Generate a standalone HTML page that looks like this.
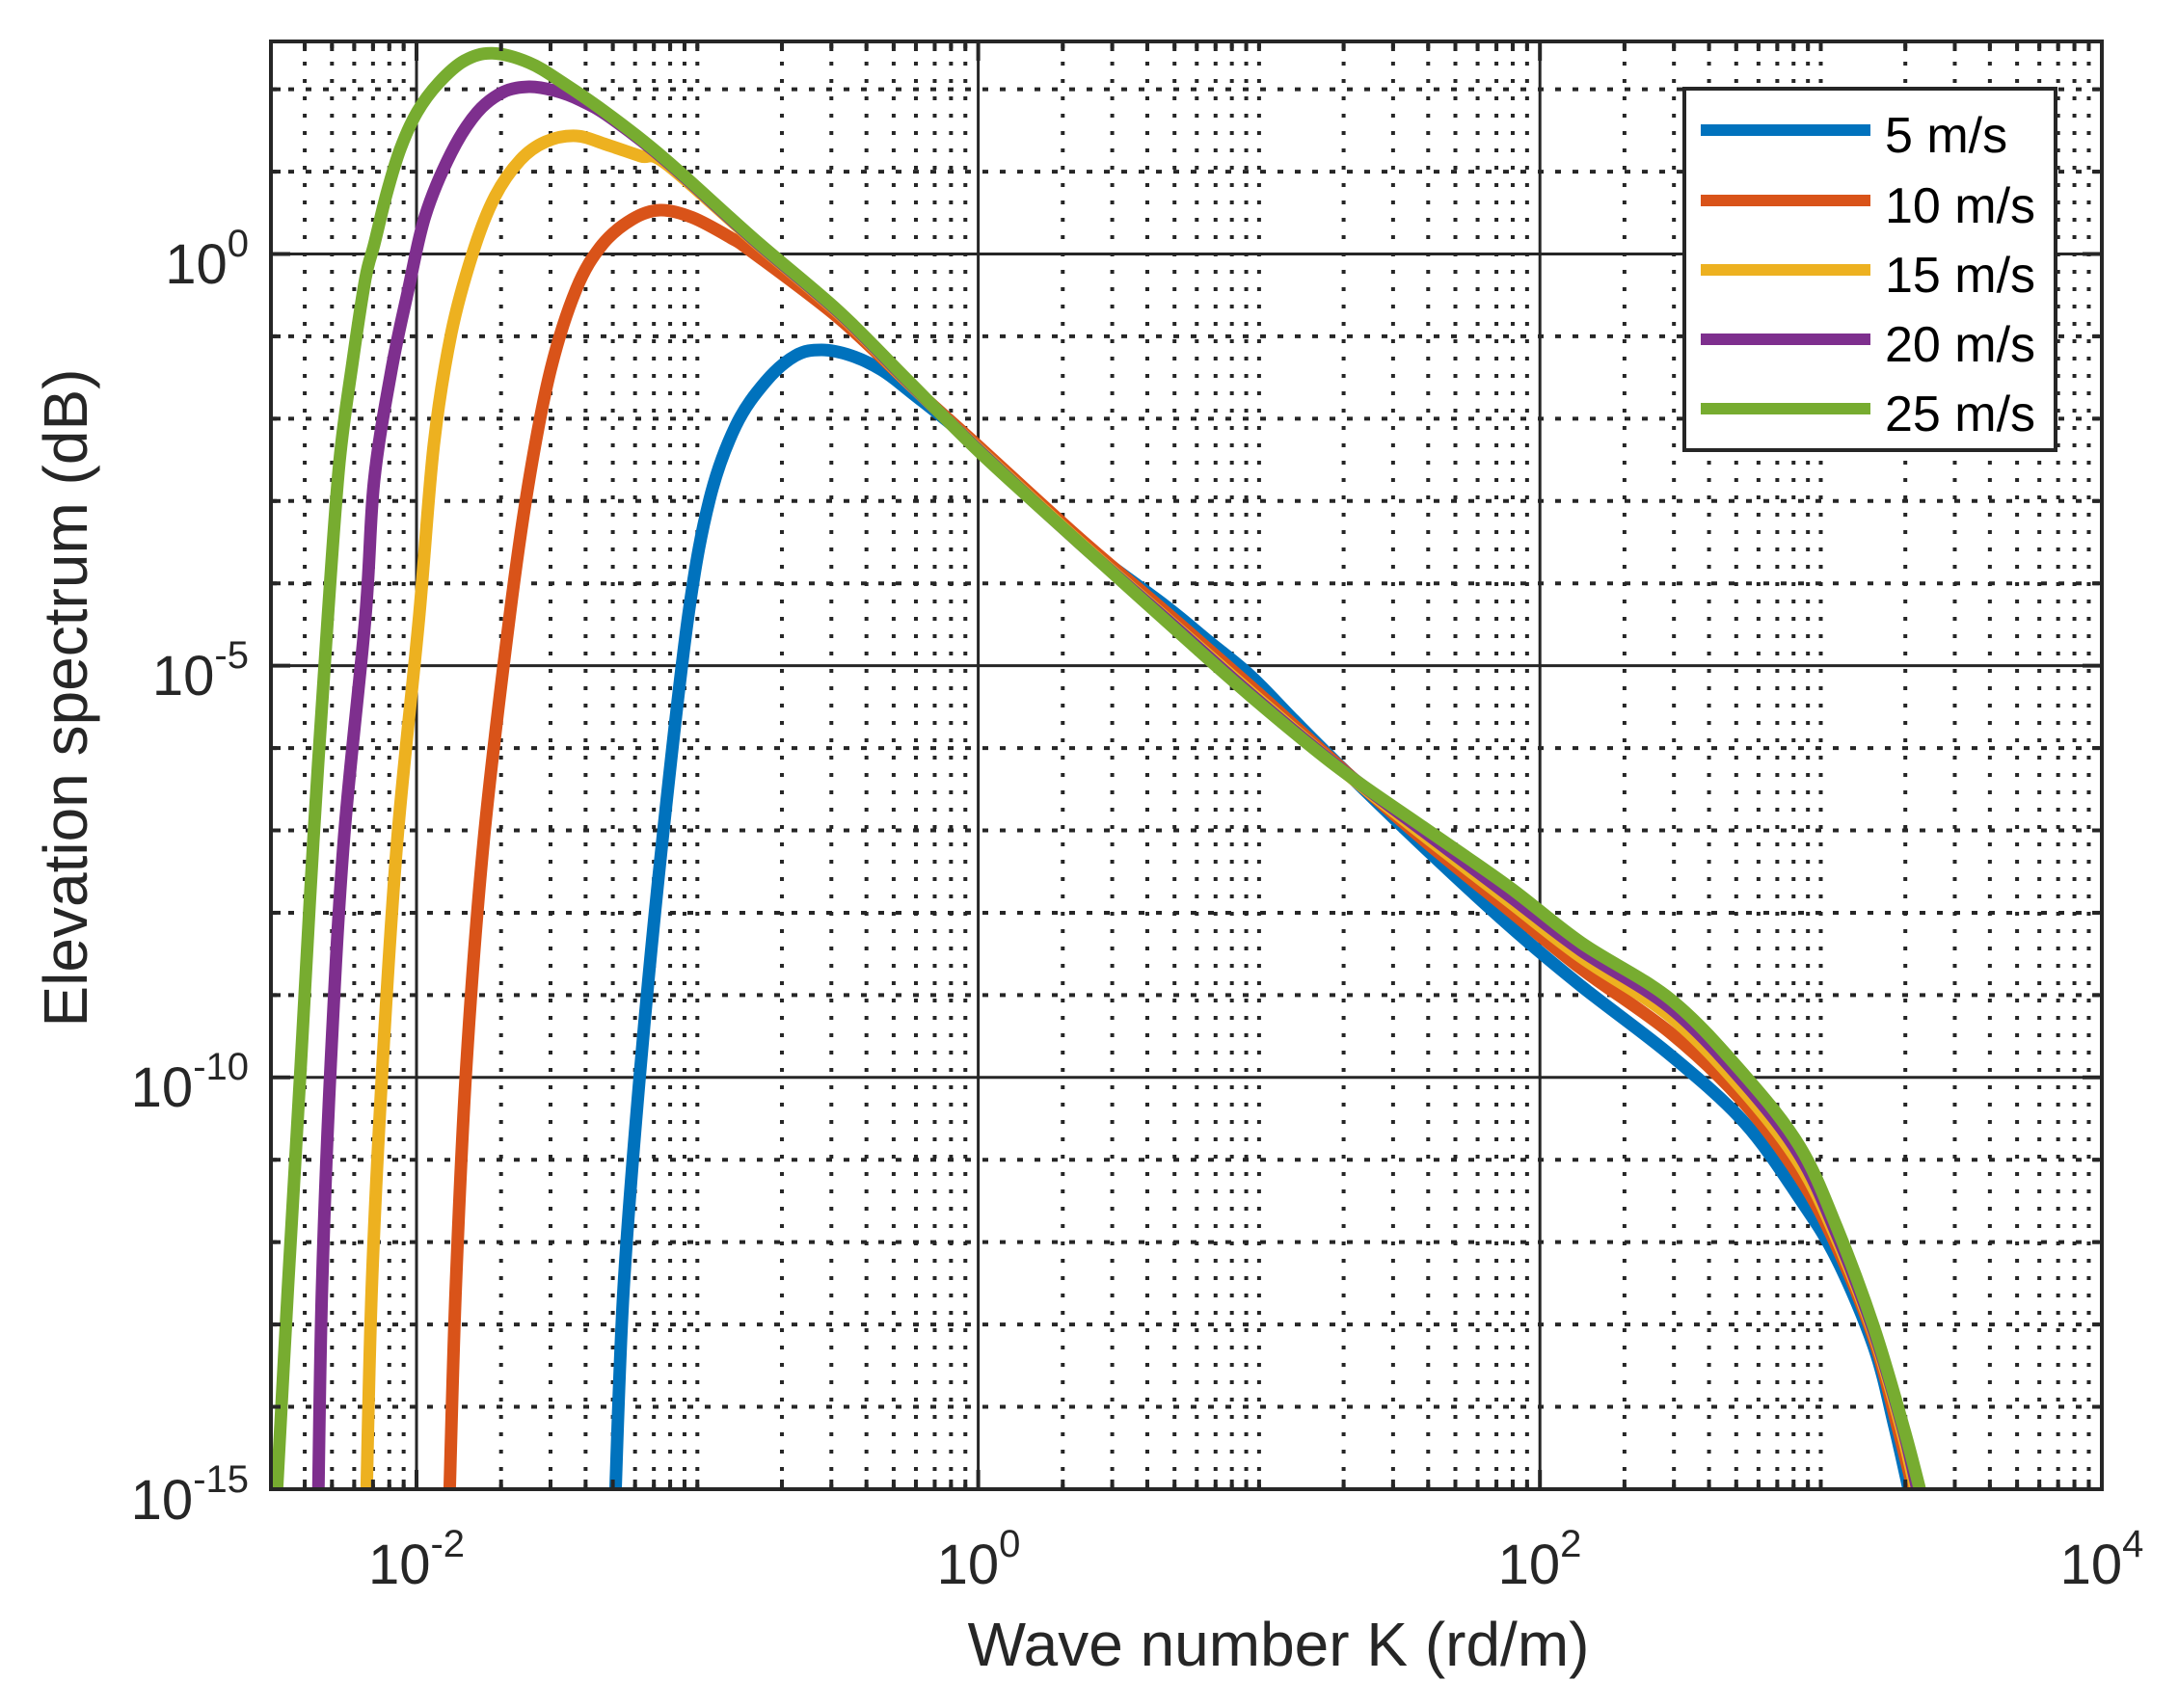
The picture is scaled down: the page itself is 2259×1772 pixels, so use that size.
<!DOCTYPE html>
<html><head><meta charset="utf-8"><style>
html,body{margin:0;padding:0;background:#fff;}
svg{display:block;}
text{font-family:"Liberation Sans",Arial,sans-serif;fill:#262626;}
</style></head><body>
<svg id="s" width="2259" height="1772" viewBox="0 0 2259 1772" xmlns="http://www.w3.org/2000/svg">
<defs><clipPath id="c"><rect x="281" y="43" width="1899" height="1502"/></clipPath></defs>
<rect width="2259" height="1772" fill="#fff"/>
<g id="grid"></g>
<g id="curves" clip-path="url(#c)" fill="none" stroke-width="13" stroke-linejoin="round"></g>
<rect x="281" y="43" width="1899" height="1502" fill="none" stroke="#262626" stroke-width="4"/>
<g id="ticks"></g>
<g font-size="58">
<text x="258" y="294" text-anchor="end">10<tspan dy="-28" font-size="40">0</tspan></text>
<text x="258" y="721" text-anchor="end">10<tspan dy="-28" font-size="40">-5</tspan></text>
<text x="258" y="1148" text-anchor="end">10<tspan dy="-28" font-size="40">-10</tspan></text>
<text x="258" y="1576" text-anchor="end">10<tspan dy="-28" font-size="40">-15</tspan></text>
<text x="432" y="1643" text-anchor="middle">10<tspan dy="-28" font-size="40">-2</tspan></text>
<text x="1015" y="1643" text-anchor="middle">10<tspan dy="-28" font-size="40">0</tspan></text>
<text x="1597" y="1643" text-anchor="middle">10<tspan dy="-28" font-size="40">2</tspan></text>
<text x="2180" y="1643" text-anchor="middle">10<tspan dy="-28" font-size="40">4</tspan></text>
</g>
<text x="1326" y="1728" font-size="64" text-anchor="middle">Wave number K (rd/m)</text>
<text transform="translate(90,724) rotate(-90)" font-size="64" text-anchor="middle">Elevation spectrum (dB)</text>
<rect x="1747" y="92" width="385" height="375" fill="#fff" stroke="#262626" stroke-width="4"/>
<g stroke-width="12">
<line x1="1764" y1="135" x2="1940" y2="135" stroke="#0072BD"/>
<line x1="1764" y1="208" x2="1940" y2="208" stroke="#D95319"/>
<line x1="1764" y1="280" x2="1940" y2="280" stroke="#EDB120"/>
<line x1="1764" y1="352" x2="1940" y2="352" stroke="#7E2F8E"/>
<line x1="1764" y1="424" x2="1940" y2="424" stroke="#77AC30"/>
</g>
<g font-size="52">
<text x="1955" y="158" style="fill:#000">5 m/s</text>
<text x="1955" y="231" style="fill:#000">10 m/s</text>
<text x="1955" y="303" style="fill:#000">15 m/s</text>
<text x="1955" y="375" style="fill:#000">20 m/s</text>
<text x="1955" y="447" style="fill:#000">25 m/s</text>
</g>
</svg>
<script>
var NS="http://www.w3.org/2000/svg";
function X(l){return 432+(l+2)*291.3;}
function Y(l){return 263.5-l*85.43;}
function el(p,t,a){var e=document.createElementNS(NS,t);for(var k in a)e.setAttribute(k,a[k]);p.appendChild(e);return e;}
var g=document.getElementById("grid"),tk=document.getElementById("ticks");
var L=281,R=2180,T=43,B=1545;
for(var d=-3;d<=3;d++){for(var m=1;m<=9;m++){var lx=d+Math.log10(m);var x=X(lx);if(x<=L+2||x>=R-2)continue;
 var major=(m==1&&d%2==0);
 if(major){el(g,"line",{x1:x,y1:T,x2:x,y2:B,stroke:"#262626","stroke-width":3});
  el(tk,"line",{x1:x,y1:B,x2:x,y2:B-20,stroke:"#262626","stroke-width":4});el(tk,"line",{x1:x,y1:T,x2:x,y2:T+20,stroke:"#262626","stroke-width":4});}
 else{el(g,"line",{x1:x,y1:T+3,x2:x,y2:B,stroke:"#262626","stroke-width":4,"stroke-dasharray":"4 14"});
  el(tk,"line",{x1:x,y1:B,x2:x,y2:B-10,stroke:"#262626","stroke-width":4});el(tk,"line",{x1:x,y1:T,x2:x,y2:T+10,stroke:"#262626","stroke-width":4});}
}}
for(var d=2;d>=-14;d--){var y=Y(d);if(y<=T+2||y>=B-2)continue;
 if(d%5==0){el(g,"line",{x1:L,y1:y,x2:R,y2:y,stroke:"#262626","stroke-width":3});
  el(tk,"line",{x1:L,y1:y,x2:L+20,y2:y,stroke:"#262626","stroke-width":4});el(tk,"line",{x1:R,y1:y,x2:R-20,y2:y,stroke:"#262626","stroke-width":4});}
 else{el(g,"line",{x1:L,y1:y,x2:R,y2:y,stroke:"#262626","stroke-width":4,"stroke-dasharray":"6 12"});
  el(tk,"line",{x1:L,y1:y,x2:L+10,y2:y,stroke:"#262626","stroke-width":4});el(tk,"line",{x1:R,y1:y,x2:R-10,y2:y,stroke:"#262626","stroke-width":4});}
}
var C={
"#0072BD":[[637.9,1560],[646.8,1336.5],[664.6,1104],[687,872],[713.7,640],[736,518],[763,442],[794,396],[825,369],[852,363],[883,369],[914.6,384],[945,407],[1016,465],[1118,560],[1208,628],[1252,664],[1297,701],[1342,747],[1386,791],[1476,878],[1565,960],[1640,1023],[1733,1095],[1809.6,1165],[1867,1244],[1905,1306],[1943.6,1397.5],[1965,1480],[1983,1560]],
"#D95319":[[466,1560],[472.7,1336.5],[483.8,1104],[501.7,872],[528.5,640],[548.6,499],[571,384],[597.7,300],[624.5,254],[655.7,227.5],[684.7,218],[718,225.6],[758,246.7],[781,262],[870,330],[945,400],[1016,464],[1118,557],[1208,634],[1297,712],[1386,792],[1476,871],[1565,944],[1640,1005],[1733,1072],[1809.6,1145],[1867,1222],[1905,1293],[1943.6,1389],[1968,1480],[1988,1560]],
"#EDB120":[[380,1560],[385.6,1336],[396.8,1104],[412,872],[434.7,640],[450,461],[468,346],[490.5,262],[513,204.6],[539.6,166],[566,147],[597.7,141],[629,150],[664.6,162],[691,170],[781,249],[870,325],[940,395],[1016,467],[1118,561],[1208,640],[1297,718],[1386,794],[1476,866],[1565,935],[1640,993],[1733,1055],[1809.6,1133],[1867,1208],[1905,1285],[1943.6,1384],[1972,1482],[1990,1560]],
"#7E2F8E":[[330,1560],[334,1336],[343,1104],[356.6,872],[379,640],[388,499],[406,384],[423.6,300],[441,224],[468,158.6],[495,116.5],[522,95.5],[548.6,90],[575,94],[602,104],[633,122],[691,167],[781,248],[870,324],[940,394],[1016,468],[1118,562],[1208,641],[1297,720],[1386,794],[1476,862],[1565,929],[1640,986],[1733,1046],[1809.6,1124],[1867,1199],[1905,1280],[1943.6,1381],[1974,1483],[1992,1560]],
"#77AC30":[[286.5,1560],[298.6,1336.5],[312,1104],[325,872],[340,640],[352,480],[365.5,377],[379,289],[388,254],[401,201],[415,155],[432.5,116.5],[455,86],[481.6,63],[510.6,55.3],[548.6,65],[584,86],[633,120],[691,166],[781,247],[870,323],[940,393],[1016,469],[1118,562],[1208,643],[1297,722],[1386,795],[1476,858],[1565,920],[1640,978],[1733,1037],[1809.6,1115.6],[1867,1190],[1905,1273],[1943.6,1377],[1975,1483],[1995,1560]]
};
function smooth(p){var d="M"+p[0][0]+","+p[0][1];
 for(var i=0;i<p.length-1;i++){var p0=p[i>0?i-1:0],p1=p[i],p2=p[i+1],p3=p[i+2<p.length?i+2:i+1];
  var c1x=p1[0]+(p2[0]-p0[0])/6,c1y=p1[1]+(p2[1]-p0[1])/6,c2x=p2[0]-(p3[0]-p1[0])/6,c2y=p2[1]-(p3[1]-p1[1])/6;
  d+=" C"+c1x.toFixed(1)+","+c1y.toFixed(1)+" "+c2x.toFixed(1)+","+c2y.toFixed(1)+" "+p2[0]+","+p2[1];}
 return d;}
var cg=document.getElementById("curves");
for(var col in C){el(cg,"path",{d:smooth(C[col]),stroke:col});}
</script>
</body></html>
